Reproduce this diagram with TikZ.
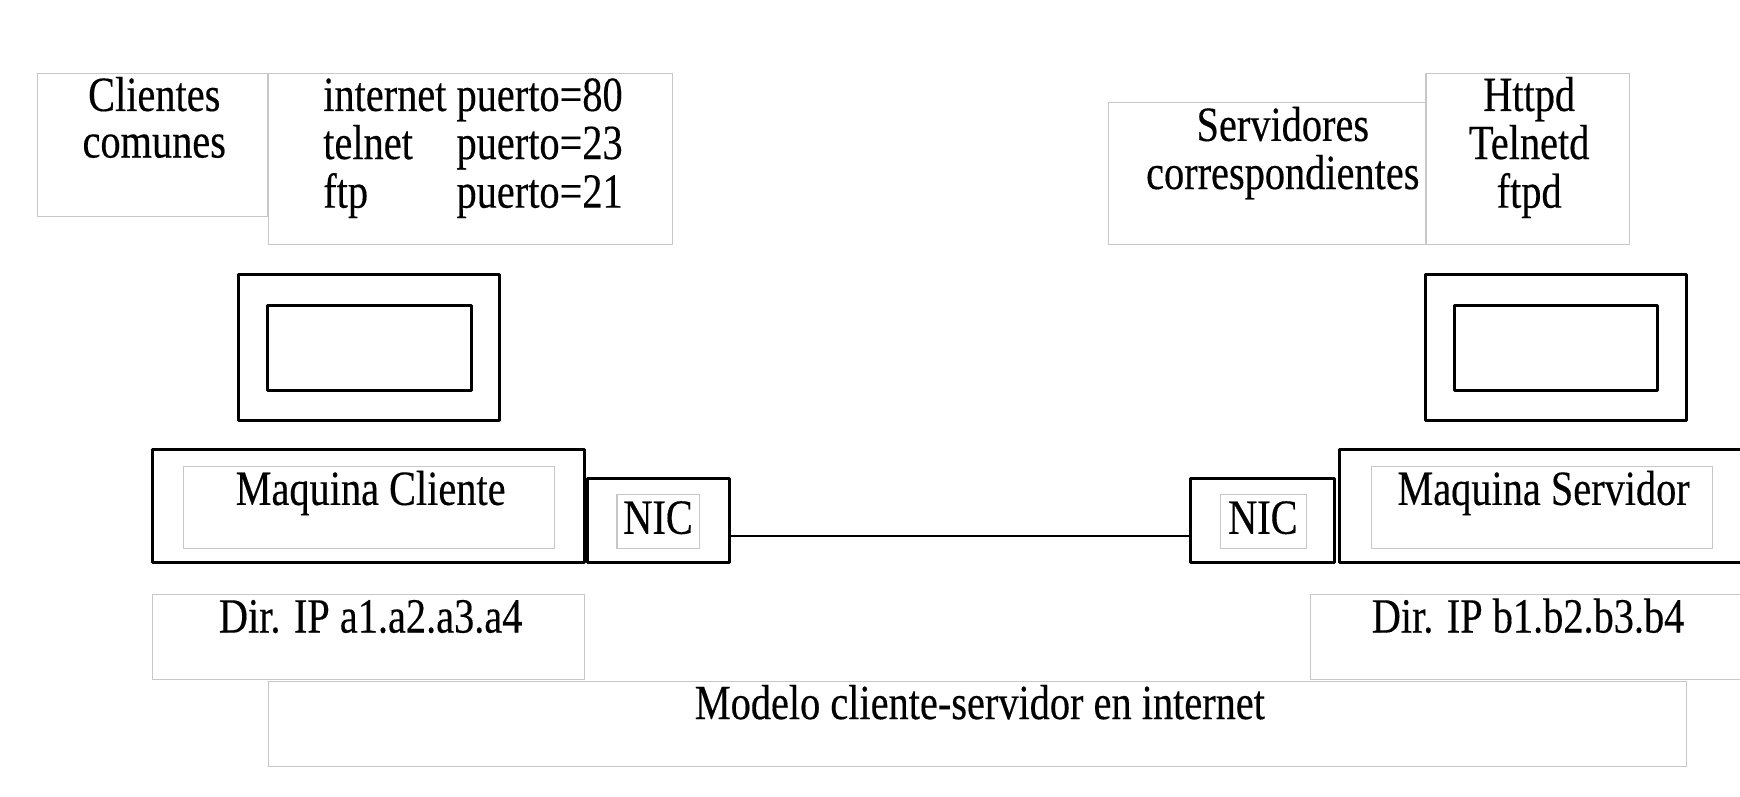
\documentclass[tikz,border=0pt]{standalone}
\usepackage{fontspec}
\setmainfont{Liberation Serif}[FakeStretch=0.82,FakeBold=0.3]
\usepackage{tikz}
\usetikzlibrary{fit,calc}
\tikzset{g/.style={draw=black!22,line width=0.6pt,inner sep=0pt}}
\tikzset{k/.style={draw,line width=1.7pt,line join=round,inner sep=0pt}}
\tikzset{t/.style={font=\fontsize{28}{26.5}\selectfont,inner sep=0pt,anchor=base}}

\begin{document}
\begin{tikzpicture}[x=0.0222cm,y=-0.0222cm]
          \useasboundingbox (0,0) rectangle (1568,718);
          \clip (0,0) rectangle (1568,718);
          % recuadros de texto
          \node[g,fit={(34,66) (241,195)}] (cli) {};
          \node[g,fit={(242,66) (606,220)}] (prt) {};
          \node[g,fit={(999,92) (1285,220)}] (srv) {};
          \node[g,fit={(1285,66) (1468,220)}] (dmn) {};
          \node[g,fit={(165,420) (500,494)}] (mqC) {};
          \node[g,fit={(556,446) (630,494)}] (nicC) {};
          \node[g,fit={(1100,446) (1177,494)}] (nicS) {};
          \node[g,fit={(1236,420) (1543,494)}] (mqS) {};
          \node[g,fit={(137,536) (527,612)}] (ipC) {};
          \node[g,fit={(1181,536) (1580,612)}] (ipS) {};
          \node[g,fit={(242,614) (1520,691)}] (mod) {};
          % monitores y maquinas
          \node[k,fit={(215,247) (450,379)}] (monC) {};
          \node[k,fit={(241,275) (425,352)}] (scrC) {};
          \node[k,fit={(1285,247) (1520,379)}] (monS) {};
          \node[k,fit={(1311,275) (1494,352)}] (scrS) {};
          \node[k,fit={(137,405) (527,507)}] (boxC) {};
          \node[k,fit={(529,431) (657,507)}] (nicboxC) {};
          \node[k,fit={(1073,431) (1203,507)}] (nicboxS) {};
          \node[k,fit={(1207,405) (1580,507)}] (boxS) {};
          \draw[line width=1.3pt] ($(nicboxC.east)+(0,14)$) -- ($(nicboxS.west)+(0,14)$);
          % textos
          \node[t] (cliT) at (139,100) {\begin{tabular}[t]{@{}c@{}}Clientes\\comunes\end{tabular}};
          \node[t,anchor=base west] (prtT) at (291,100) {\begin{tabular}[t]{@{}l@{\ }l@{}}internet & puerto=80\\telnet & puerto=23\\ftp & puerto=21\end{tabular}};
          \node[t] (srvT) at (1156,127) {\begin{tabular}[t]{@{}c@{}}Servidores\\correspondientes\end{tabular}};
          \node[t] (dmnT) at (1378,100) {\begin{tabular}[t]{@{}c@{}}Httpd\\Telnetd\\ftpd\end{tabular}};
          \node[t] (mqCT) at (334,455) {Maquina Cliente};
          \node[t] (nicCT) at (593,481) {NIC};
          \node[t] (nicST) at (1138,481) {NIC};
          \node[t] (mqST) at (1391,455) {Maquina Servidor};
          \node[t] (ipCT) at (334,570) {Dir. IP a1.a2.a3.a4};
          \node[t] (ipST) at (1377,570) {Dir. IP b1.b2.b3.b4};
          \node[t] (modT) at (883,648) {Modelo cliente-servidor en internet};
        \end{tikzpicture}
\end{document}
